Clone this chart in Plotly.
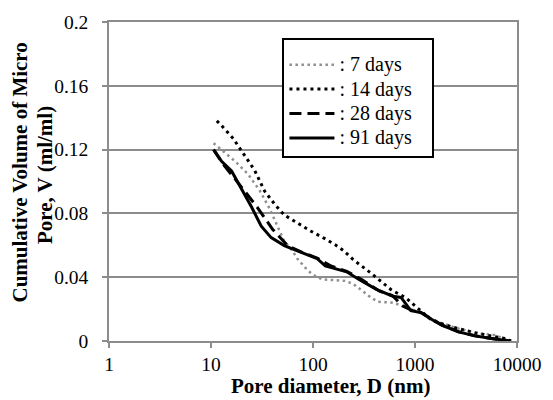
import plotly.graph_objects as go

# Cumulative micro-pore volume curves (pore diameter in nm, volume in ml/ml)
d_7 = [10.6, 17.2, 23.1, 30.0, 37.4, 43.4, 52.3, 62.7, 70.3, 87.9, 101, 122, 171, 206, 248, 311,
       373, 434, 606, 757, 1019, 1710, 2670, 4170, 6040, 8440]
v_7 = [0.124, 0.1127, 0.1046, 0.0944, 0.0832, 0.0745, 0.0625, 0.0567, 0.0516, 0.0445, 0.0414,
       0.0387, 0.0383, 0.0377, 0.0358, 0.0312, 0.0271, 0.0246, 0.0240, 0.0220, 0.0190, 0.0118,
       0.0078, 0.0047, 0.0037, 0.0]

d_14 = [11.4, 12.7, 16.5, 19.9, 26.8, 33.5, 41.8, 52.3, 70.3, 94.6, 132, 164, 199, 248, 373,
        582, 815, 1019, 1468, 2300, 4170, 7560, 8760]
v_14 = [0.138, 0.135, 0.127, 0.119, 0.107, 0.094, 0.086, 0.079, 0.074, 0.069, 0.064, 0.0605,
        0.0567, 0.051, 0.0424, 0.0322, 0.027, 0.0214, 0.0128, 0.0088, 0.0047, 0.0016, 0.0]

d_28 = [10.6, 13.2, 19.9, 28.9, 40.3, 56.3, 82, 110, 150, 214, 300, 450, 600, 757, 910, 1140,
        1420, 1845, 2670, 3870, 5610, 8440]
v_28 = [0.120, 0.1107, 0.0965, 0.0832, 0.0699, 0.0598, 0.0550, 0.0520, 0.0470, 0.0437, 0.0385,
        0.0312, 0.0285, 0.0220, 0.0195, 0.0180, 0.0142, 0.0100, 0.0058, 0.0033, 0.0016, 0.0]

d_91 = [10.6, 12.7, 15.9, 19.9, 24.9, 31.1, 38.9, 52.3, 81.6, 110, 132, 214, 288, 418, 606, 729,
        910, 1138, 1422, 1845, 2670, 3870, 5610, 8440]
v_91 = [0.120, 0.1127, 0.1066, 0.0954, 0.0842, 0.072, 0.0648, 0.0598, 0.0546, 0.0516, 0.0471,
        0.0434, 0.0383, 0.0324, 0.0281, 0.0273, 0.019, 0.0179, 0.0139, 0.0098, 0.0057, 0.0032,
        0.0016, 0.0]

series_names = [": 7 days", ": 14 days", ": 28 days", ": 91 days"]

y_ticks = [0, 0.04, 0.08, 0.12, 0.16, 0.2]
y_tick_text = ["0", "0.04", "0.08", "0.12", "0.16", "0.2"]
x_ticks = [1, 10, 100, 1000, 10000]
x_tick_text = ["1", "10", "100", "1000", "10000"]

FONT = "'Liberation Serif', 'Times New Roman', serif"
GRID = "#8c8c8c"


def legend_label(name):
    # larger text inside a compact legend row, padded on the right
    return '<span style="font-size:20px">' + name + "\u00a0\u00a0\u00a0</span>"


fig = go.Figure()
fig.add_trace(go.Scatter(x=d_7, y=v_7, mode="lines", name=legend_label(series_names[0]),
                         line=dict(color="#8f8f8f", width=2.5, dash="2.5px,3.5px")))
fig.add_trace(go.Scatter(x=d_14, y=v_14, mode="lines", name=legend_label(series_names[1]),
                         line=dict(color="black", width=3, dash="3px,4px")))
fig.add_trace(go.Scatter(x=d_28, y=v_28, mode="lines", name=legend_label(series_names[2]),
                         line=dict(color="black", width=3, dash="12px,6px")))
fig.add_trace(go.Scatter(x=d_91, y=v_91, mode="lines", name=legend_label(series_names[3]),
                         line=dict(color="black", width=3)))

fig.update_layout(
    width=553, height=400,
    margin=dict(l=109, r=30, t=14, b=59),
    paper_bgcolor="white", plot_bgcolor="white",
    font=dict(family=FONT, size=20, color="black"),
    showlegend=True,
    legend=dict(x=(285 - 109) / 414, y=(341 - 30) / 327, xanchor="left", yanchor="top",
                bordercolor="black", borderwidth=2, bgcolor="white",
                font=dict(family=FONT, size=16.5), itemwidth=45,
                title=dict(text="\u00a0", font=dict(family=FONT, size=6)),
                tracegroupgap=0),
    xaxis=dict(type="log", range=[0, 4], tickvals=x_ticks, ticktext=x_tick_text,
               showgrid=False, showline=True, linecolor=GRID, linewidth=1.5, mirror=True,
               ticks="outside", ticklen=5, tickcolor=GRID, tickwidth=1.5,
               zeroline=False, tickfont=dict(family=FONT, size=19.5)),
    yaxis=dict(range=[0, 0.2], tickvals=y_ticks, ticktext=y_tick_text,
               showgrid=True, gridcolor=GRID, gridwidth=1.5,
               showline=True, linecolor=GRID, linewidth=1.5, mirror=True,
               ticks="outside", ticklen=5, tickcolor=GRID, tickwidth=1.5,
               ticklabelstandoff=10,
               zeroline=False, tickfont=dict(family=FONT, size=19.5)),
)

# Axis titles placed as annotations
fig.add_annotation(text="<b>Pore diameter, D (nm)</b>", xref="paper", yref="paper",
                   x=(334 - 109) / 414, y=-(387 - 341) / 327, showarrow=False,
                   xanchor="center", yanchor="middle",
                   font=dict(family=FONT, size=21, color="black"))
fig.add_annotation(text="<b>Cumulative Volume of Micro</b>",
                   xref="paper", yref="paper",
                   x=-(109 - 19) / 414, y=(341 - 168) / 327, showarrow=False,
                   textangle=-90, xanchor="center", yanchor="middle",
                   font=dict(family=FONT, size=21, color="black"))
fig.add_annotation(text="<b>Pore, V (ml/ml)</b>",
                   xref="paper", yref="paper",
                   x=-(109 - 44) / 414, y=(341 - 171) / 327, showarrow=False,
                   textangle=-90, xanchor="center", yanchor="middle",
                   font=dict(family=FONT, size=21, color="black"))

fig.write_html("out.html")
